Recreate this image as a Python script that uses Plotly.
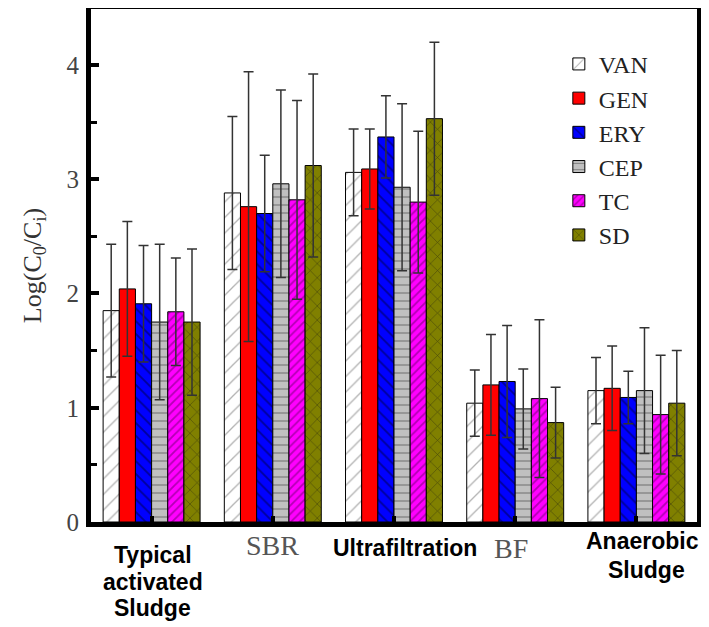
import plotly.graph_objects as go

categories = ["Typical activated Sludge", "SBR", "Ultrafiltration", "BF", "Anaerobic Sludge"]
series_names = ["VAN", "GEN", "ERY", "CEP", "TC", "SD"]

van = [1.85, 2.88, 3.06, 1.04, 1.15]
van_err = [0.58, 0.67, 0.38, 0.29, 0.29]
gen = [2.04, 2.76, 3.09, 1.20, 1.17]
gen_err = [0.59, 1.18, 0.35, 0.44, 0.37]
ery = [1.91, 2.70, 3.37, 1.23, 1.09]
ery_err = [0.51, 0.51, 0.36, 0.49, 0.23]
cep = [1.75, 2.96, 2.93, 0.99, 1.15]
cep_err = [0.68, 0.82, 0.73, 0.35, 0.55]
tc = [1.84, 2.82, 2.80, 1.08, 0.94]
tc_err = [0.47, 0.87, 0.62, 0.69, 0.52]
sd = [1.75, 3.12, 3.53, 0.87, 1.04]
sd_err = [0.64, 0.80, 0.67, 0.31, 0.46]

y_ticks = [0, 1, 2, 3, 4]

values = [van, gen, ery, cep, tc, sd]
errors = [van_err, gen_err, ery_err, cep_err, tc_err, sd_err]

styles = [
    dict(color="white", pattern=dict(shape="/", fgcolor="#666666", size=11, solidity=0.12)),
    dict(color="#ff0000", pattern=dict(shape="")),
    dict(color="#0000ff", pattern=dict(shape="\\", fgcolor="#000033", size=9, solidity=0.2)),
    dict(color="#c0c0c0", pattern=dict(shape="-", fgcolor="#333333", size=8, solidity=0.15)),
    dict(color="#ff00ff", pattern=dict(shape="/", fgcolor="#660066", size=6, solidity=0.3)),
    dict(color="#808000", pattern=dict(shape="x", fgcolor="#111111", size=10, solidity=0.12)),
]

fig = go.Figure()
for name, vals, errs, st in zip(series_names, values, errors, styles):
    fig.add_trace(go.Bar(
        name=name, x=categories, y=vals,
        marker=dict(color=st["color"], pattern=st["pattern"],
                    line=dict(color="black", width=1)),
        error_y=dict(type="data", array=errs, visible=True,
                     color="#333333", thickness=1.5, width=5),
    ))

# page body adds an 8px offset; figure sized so it fits the 709x627 window
fig.update_layout(
    width=701, height=619,
    margin=dict(l=83, r=12, t=1, b=105, autoexpand=False),
    paper_bgcolor="white", plot_bgcolor="white",
    barmode="group", bargap=0.2, bargroupgap=0,
    showlegend=True,
    legend=dict(x=0.772, y=0.936, xanchor="left", yanchor="top",
                bgcolor="rgba(0,0,0,0)", tracegroupgap=0,
                font=dict(family="Liberation Serif, Times New Roman, serif", size=24, color="#222222")),
    font=dict(family="Liberation Serif, Times New Roman, serif"),
)

fig.update_xaxes(
    categoryorder="array", categoryarray=categories,
    range=[-0.5, 4.5], automargin=False,
    showline=True, linecolor="black", linewidth=5, mirror=True,
    ticks="inside", ticklen=6, tickwidth=4, tickcolor="black",
    showticklabels=False, showgrid=False, zeroline=False,
)
fig.update_yaxes(
    range=[0, 4.49], automargin=False,
    tickvals=y_ticks, ticktext=[str(t) for t in y_ticks],
    showline=True, linecolor="black", linewidth=5, mirror=True,
    ticks="inside", ticklen=8, tickwidth=4, tickcolor="black",
    minor=dict(ticks="inside", ticklen=6, tickwidth=3, tickcolor="black", dtick=0.5, showgrid=False),
    tickfont=dict(family="Liberation Serif, Times New Roman, serif", size=25, color="#444444"),
    ticklabelstandoff=2,
    showgrid=False, zeroline=False,
    title=dict(text="Log(C<sub>0</sub>/C<sub>i</sub>)",
               font=dict(family="Liberation Serif, Times New Roman, serif", size=26, color="#333333"),
               standoff=19),
)

bold = dict(family="Liberation Sans, Arial, sans-serif", size=23, color="black")
serif = dict(family="Liberation Serif, Times New Roman, serif", size=28, color="#555555")
# (category, line text, font, x shift px, line centre y px below plot bottom)
label_lines = [
    (categories[0], "<b>Typical</b>", bold, 1, 33),
    (categories[0], "<b>activated</b>", bold, 1, 60),
    (categories[0], "<b>Sludge</b>", bold, 1, 86),
    (categories[1], "SBR", serif, 0, 23),
    (categories[2], "<b>Ultrafiltration</b>", bold, 11, 26),
    (categories[3], "BF", serif, -4, 26),
    (categories[4], "<b>Anaerobic</b>", bold, 6, 19),
    (categories[4], "<b>Sludge</b>", bold, 10, 48),
]
for cat, txt, f, xs, yc in label_lines:
    fig.add_annotation(x=cat, y=0, xref="x", yref="paper", text=txt, showarrow=False,
                       font=f, xanchor="center", yanchor="middle", xshift=xs, yshift=-yc,
                       align="center")

fig.write_html("out.html")
